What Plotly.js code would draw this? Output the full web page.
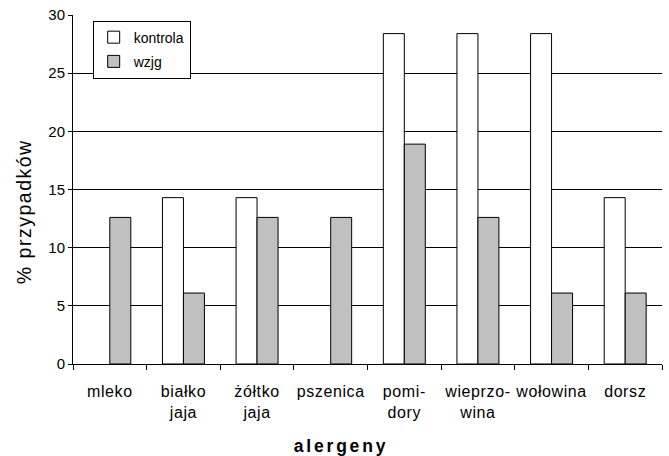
<!DOCTYPE html>
<html><head><meta charset="utf-8">
<script src="https://cdn.plot.ly/plotly-3.0.1.min.js"></script>
<style>html,body{margin:0;padding:0;background:#fff}#chart{width:669px;height:456px}</style>
</head><body><div id="chart"></div>
<script>
const categories = ["mleko","białko<br>jaja","żółtko<br>jaja","pszenica","pomi-<br>dory","wieprzo-<br>wina","wołowina","dorsz"];
const kontrola = [0, 14.3, 14.3, 0, 28.4, 28.4, 28.4, 14.3];
const wzjg = [12.6, 6.1, 12.6, 12.6, 18.9, 12.6, 6.1, 6.1];
const seriesNames = ["kontrola", "wzjg"];
const yTicks = [0, 5, 10, 15, 20, 25, 30];
const yTitle = "% przypadków";
const xTitle = "alergeny";

const FONT = "Liberation Sans, Arial, sans-serif";
// zero-height bars are not drawn in the reference
const visibleBars = function(vals){ return vals.map(function(v){ return v > 0 ? v : null; }); };

const traces = [
  {type:"bar", name:seriesNames[0], x:categories, y:visibleBars(kontrola), legendgroup:"a",
   marker:{color:"#ffffff", line:{color:"#000000", width:1}}},
  {type:"bar", name:seriesNames[1], x:categories, y:visibleBars(wzjg), legendgroup:"b",
   marker:{color:"#c0c0c0", line:{color:"#000000", width:1}}}
];

const layout = {
  width:669, height:456,
  margin:{l:73, r:7, t:15, b:92},
  paper_bgcolor:"#ffffff", plot_bgcolor:"#ffffff",
  font:{family:FONT, color:"#000000"},
  barmode:"group", bargap:0.43, bargroupgap:0,
  showlegend:true,
  legend:{x:0.0334, y:0.984, xanchor:"left", yanchor:"top",
    bgcolor:"#ffffff", bordercolor:"#000000", borderwidth:1,
    font:{size:14, family:FONT}, traceorder:"grouped", tracegroupgap:3},
  xaxis:{type:"category", showline:true, linecolor:"#000000", linewidth:1,
    ticks:"outside", tickson:"boundaries", ticklen:5, tickcolor:"#000000",
    ticklabelstandoff:13,
    tickangle:0, tickfont:{size:16, family:FONT}, showgrid:false, zeroline:false},
  yaxis:{range:[0,30], tickvals:yTicks, ticktext:yTicks.map(String),
    ticks:"outside", ticklen:4, tickcolor:"#000000",
    showline:true, linecolor:"#000000", linewidth:1,
    showgrid:true, gridcolor:"#000000", gridwidth:1, zeroline:false,
    tickfont:{size:15, family:FONT}},
  annotations:[
    {text:yTitle, xref:"paper", yref:"paper", x:-0.0832, y:0.438,
     xanchor:"center", yanchor:"middle", textangle:-90, showarrow:false,
     font:{size:19.5, family:FONT}},
    {text:"<b>"+xTitle+"</b>", xref:"paper", yref:"paper", x:0.4555, y:-0.2006,
     xanchor:"center", yanchor:"top", showarrow:false,
     font:{size:17.5, family:FONT}}
  ]
};

Plotly.newPlot("chart", traces, layout, {displayModeBar:false, staticPlot:true}).then(function(){
  const anns = document.querySelectorAll("#chart .annotation-text");
  if (anns[0]) anns[0].style.letterSpacing = "1.5px";
  if (anns[1]) anns[1].style.letterSpacing = "2.8px";
  document.querySelectorAll("#chart .xtick text").forEach(function(t){ t.style.letterSpacing = "0.6px"; });
});
</script>
</body></html>
